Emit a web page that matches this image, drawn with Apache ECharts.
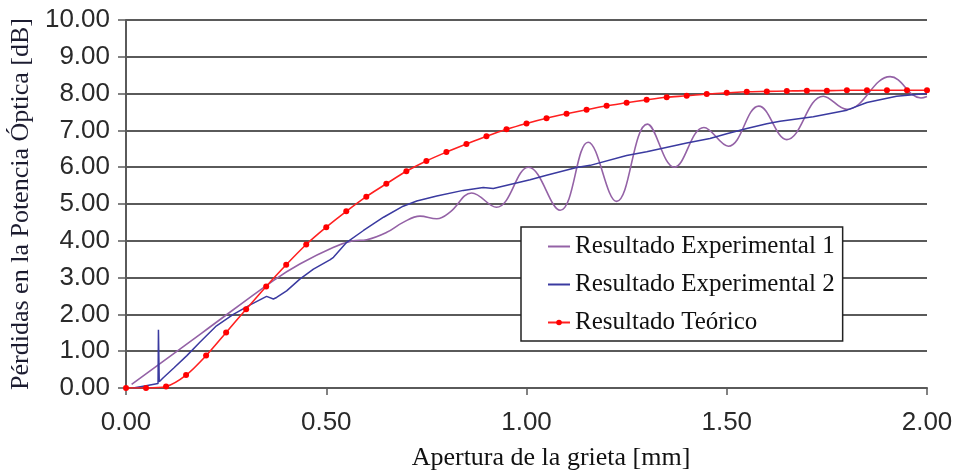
<!DOCTYPE html>
<html>
<head>
<meta charset="utf-8">
<script src="https://cdn.jsdelivr.net/npm/echarts@6/dist/echarts.min.js"></script>
<style>
html,body{margin:0;padding:0;background:#fff;}
#c{width:958px;height:474px;}
</style>
</head>
<body>
<div id="c"></div>
<script>
// ---- data ----
const seriesNames = ['Resultado Experimental 1', 'Resultado Experimental 2', 'Resultado Teórico'];

const exp1 = [
  [0.014,0.10],[0.19,1.50],[0.368,2.92],
  [0.434,3.37],[0.517,3.82],[0.567,4.00],[0.601,4.03],[0.651,4.23],[0.692,4.50],
  [0.734,4.67],[0.776,4.60],[0.809,4.78],[0.863,5.30],[0.925,4.91],[1.005,6.00],
  [1.084,4.83],[1.154,6.68],[1.225,5.07],[1.302,7.17],[1.369,6.00],[1.443,7.08],
  [1.504,6.57],[1.58,7.66],[1.65,6.75],[1.741,7.93],[1.80,7.57],[1.908,8.46],
  [1.985,7.88],[2.0,7.92]
];

const exp2 = [
  [0.018,0.00],[0.05,0.06],[0.080,0.12],[0.081,1.58],[0.083,0.17],[0.093,0.28],
  [0.12,0.55],[0.152,0.88],[0.185,1.25],[0.226,1.69],[0.268,2.00],[0.31,2.26],
  [0.351,2.49],[0.368,2.42],[0.376,2.46],[0.401,2.64],[0.434,2.96],[0.468,3.23],
  [0.509,3.48],[0.518,3.55],[0.551,3.96],[0.593,4.28],[0.643,4.64],[0.692,4.94],
  [0.726,5.08],[0.776,5.22],[0.842,5.37],[0.892,5.45],[0.917,5.42],[0.959,5.53],
  [1.009,5.66],[1.05,5.78],[1.125,5.99],[1.159,6.05],[1.25,6.32],[1.30,6.42],
  [1.40,6.66],[1.458,6.78],[1.50,6.91],[1.55,7.05],[1.60,7.18],[1.633,7.25],
  [1.716,7.37],[1.80,7.55],[1.85,7.76],[1.924,7.93],[2.0,8.00]
];

const teoX = [0,0.05,0.10,0.15,0.20,0.25,0.30,0.35,0.40,0.45,0.50,0.55,0.60,0.65,0.70,
  0.75,0.80,0.85,0.90,0.95,1.00,1.05,1.10,1.15,1.20,1.25,1.30,1.35,1.40,1.45,1.50,
  1.55,1.60,1.65,1.70,1.75,1.80,1.85,1.90,1.95,2.00];
const teoY = [0,0,0.04,0.35,0.88,1.51,2.14,2.76,3.35,3.90,4.37,4.80,5.20,5.55,5.89,
  6.17,6.41,6.63,6.84,7.03,7.19,7.33,7.45,7.56,7.67,7.75,7.83,7.90,7.94,7.99,8.02,
  8.05,8.06,8.07,8.08,8.08,8.09,8.09,8.09,8.09,8.09];

const xTitle = 'Apertura de la grieta [mm]';
const yTitle = 'Pérdidas en la Potencia Óptica [dB]';

// ---- chart ----
const chart = echarts.init(document.getElementById('c'), null, {renderer: 'canvas'});
const gridCol = '#5a5a5a';
const c1 = '#9462a6', c2 = '#3a3aa0', c3 = '#ff2020';
const option = {
  animation: false,
  backgroundColor: '#ffffff',
  grid: {left: 126, right: 31, top: 20, bottom: 86, containLabel: false},
  xAxis: {
    type: 'value', min: 0, max: 2, interval: 0.5,
    axisLine: {show: true, lineStyle: {color: gridCol, width: 2}},
    axisTick: {show: true, length: 7, lineStyle: {color: gridCol, width: 1.5}},
    splitLine: {show: false},
    axisLabel: {
      margin: 22, color: '#2a2a2a', fontFamily: 'Liberation Sans', fontSize: 26,
      formatter: v => v.toFixed(2)
    }
  },
  yAxis: {
    type: 'value', min: 0, max: 10, interval: 1,
    name: yTitle, nameLocation: 'middle', nameGap: 90,
    nameTextStyle: {fontFamily: 'Liberation Serif', fontSize: 26, color: '#1c1c30'},
    axisLine: {show: true, lineStyle: {color: gridCol, width: 2}},
    axisTick: {show: true, length: 8, inside: false, lineStyle: {color: gridCol, width: 1.5}},
    splitLine: {show: true, lineStyle: {color: gridCol, width: 2}},
    axisLabel: {
      margin: 16, color: '#2a2a2a', fontFamily: 'Liberation Sans', fontSize: 26,
      formatter: v => v.toFixed(2)
    }
  },
  legend: {
    orient: 'vertical', left: 521, top: 227,
    padding: [7, 8, 6, 26],
    itemGap: 13, itemWidth: 22, itemHeight: 7,
    backgroundColor: '#ffffff', borderColor: '#222222', borderWidth: 1.5,
    textStyle: {fontFamily: 'Liberation Serif', fontSize: 25, color: '#111'},
    data: [
      {name: seriesNames[0], itemStyle: {opacity: 0}},
      {name: seriesNames[1], itemStyle: {opacity: 0}},
      {name: seriesNames[2]}
    ]
  },
  graphic: [{
    type: 'text', x: 551, y: 458,
    style: {text: xTitle, fontFamily: 'Liberation Serif', fontSize: 26, fill: '#111',
      textAlign: 'center', textVerticalAlign: 'middle'}
  }],
  series: [
    {
      name: seriesNames[0], type: 'line', data: exp1, symbol: 'none',
      smooth: 0.4,
      lineStyle: {color: c1, width: 1.6}, itemStyle: {color: c1}, z: 2
    },
    {
      name: seriesNames[1], type: 'line', data: exp2, symbol: 'none', smooth: false,
      lineStyle: {color: c2, width: 1.5}, itemStyle: {color: c2}, z: 3
    },
    {
      name: seriesNames[2], type: 'line',
      data: teoX.map((x, i) => [x, teoY[i]]),
      symbol: 'circle', symbolSize: 6, showSymbol: true, smooth: 0.3,
      lineStyle: {color: c3, width: 1.6}, itemStyle: {color: '#ff0000', borderWidth: 0}, z: 4
    }
  ]
};
chart.setOption(option);
</script>
</body>
</html>
